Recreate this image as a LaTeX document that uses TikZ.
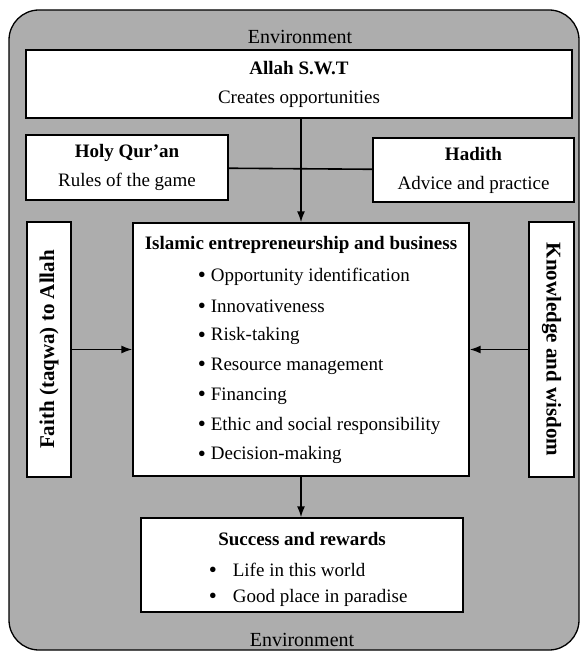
\documentclass[tikz,border=0pt]{standalone}
\usepackage{fontspec}
\setmainfont{Liberation Serif}
\usetikzlibrary{positioning,arrows.meta}
\definecolor{envgray}{RGB}{173,173,173}
\newcommand{\bigdot}{\raisebox{-1.3pt}{\fontsize{23}{23}\selectfont\textbullet}}
\tikzset{
	txt/.style={inner sep=0pt, font=\fontsize{20}{29}\selectfont},
	box/.style={draw, line width=1.4pt, fill=white, align=center, inner sep=0pt, font=\fontsize{19}{29}\selectfont},
	sidebox/.style={box, font=\fontsize{21}{25}\selectfont\bfseries},
	entry/.style={anchor=west, inner sep=0pt, font=\fontsize{19}{29}\selectfont},
	head/.style={inner sep=0pt, font=\fontsize{19}{29}\selectfont\bfseries}
}

\begin{document}
\begin{tikzpicture}[x=1pt,y=-1pt,>={Latex[length=11pt,width=8pt]},line width=1.6pt]
			\useasboundingbox (0,0) rectangle (582,652);
			\draw[fill=envgray, line width=1.3pt, rounded corners=30pt] (9,10) rectangle (579,650);
			\node[txt] (envtop) at (300,37) {Environment};
			\node[txt] (envbottom) at (302,640) {Environment};
			\node[box, minimum width=546, minimum height=68] (allah) at (299,84) {\textbf{Allah S.W.T}\\Creates opportunities};
			\node[box, minimum width=202, minimum height=65] (quran) at (127,167.5) {\textbf{Holy Qur’an}\\Rules of the game};
			\node[box, minimum width=201, minimum height=64] (hadith) at (473.5,170) {\textbf{Hadith}\\Advice and practice};
			\node[box, minimum width=336, minimum height=253] (biz) at (301,349.5) {};
			\node[sidebox, rotate=90, minimum width=255, minimum height=44] (faith) at (49,349.5) {Faith (taqwa) to Allah};
			\node[sidebox, rotate=-90, minimum width=255, minimum height=45] (knowledge) at (551.5,349.5) {Knowledge and wisdom};
			\node[box, minimum width=322, minimum height=94] (success) at (302,565) {};
			% text of the middle box
			\node[head] (bizhead) at (301,245) {Islamic entrepreneurship and business};
			\foreach \entrytext [count=\n] in {Opportunity identification, Innovativeness, Risk-taking, Resource management, Financing, Ethic and social responsibility, Decision-making}
				\node[entry] (bizitem\n) at (197,247.3+29.7*\n) {\bigdot\hspace{5pt}\entrytext};
			% text of the last box
			\node[head] (successhead) at (302,539) {Success and rewards};
			\node[entry] (successitem1) at (208,570) {\bigdot\hspace{16pt}Life in this world};
			\node[entry] (successitem2) at (208,598) {\bigdot\hspace{16pt}Good place in paradise};
			\draw (quran) -- (hadith);
			\draw[->] (allah.south -| biz.north) -- (biz.north);
			\draw[->] (faith) -- (biz);
			\draw[->] (knowledge) -- (biz);
			\draw[->] (biz.south) -- (biz.south |- success.north);
		\end{tikzpicture}
\end{document}
